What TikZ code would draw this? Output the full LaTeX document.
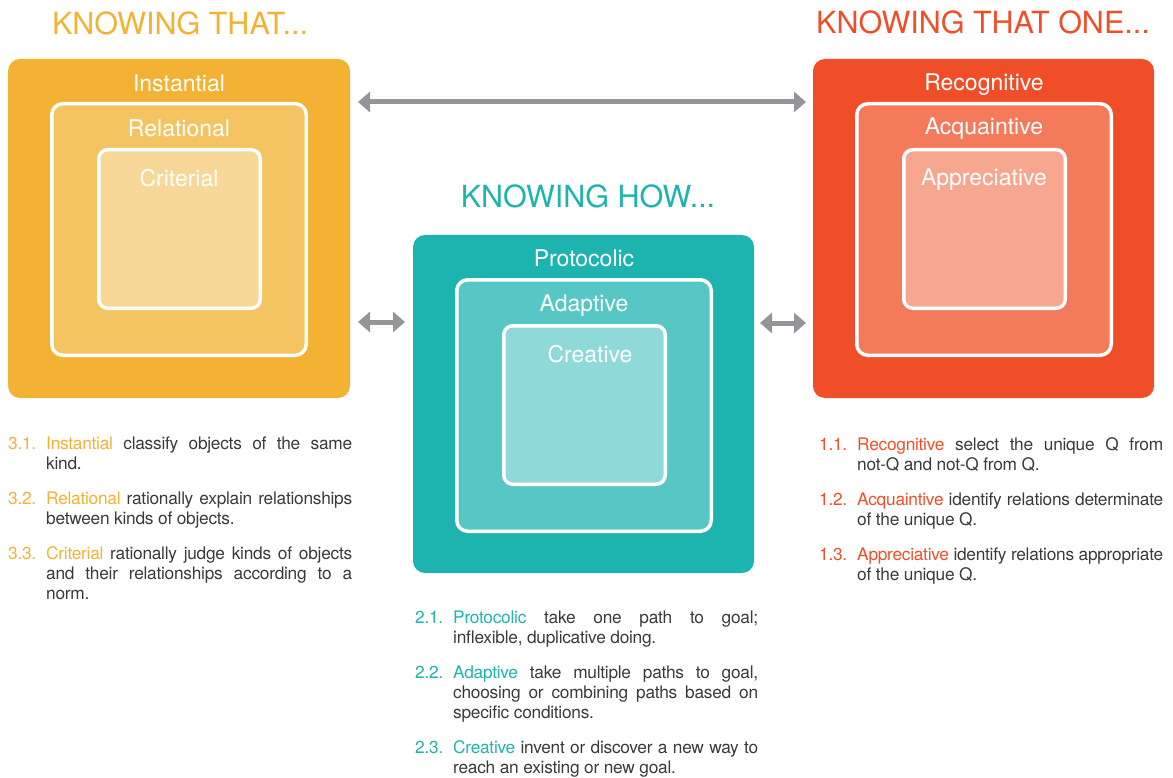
\documentclass[tikz,border=0pt]{standalone}
\usepackage{fontspec}
\setmainfont{TeX Gyre Heros}
\newfontfamily\bodyfont[LetterSpace=-1.5]{TeX Gyre Heros}
\usetikzlibrary{arrows.meta}
\definecolor{orA}{HTML}{F3B233}
\definecolor{orB}{HTML}{F5C462}
\definecolor{orC}{HTML}{F8D898}
\definecolor{tlA}{HTML}{1DB4B0}
\definecolor{tlB}{HTML}{56C7C4}
\definecolor{tlC}{HTML}{8FDAD8}
\definecolor{rdA}{HTML}{F04E28}
\definecolor{rdB}{HTML}{F47A5C}
\definecolor{rdC}{HTML}{F7A690}
\definecolor{arrgray}{HTML}{939598}
\definecolor{txtgray}{HTML}{3A3A3A}
\newcommand{\itm}[3]{\noindent\hangindent=38pt\hangafter=1\makebox[38pt][l]{\textcolor{#1}{#2}}\textcolor{#1}{#3}}
\newcommand{\txtsetup}{\setlength{\parskip}{15pt}\setlength{\parindent}{0pt}\hyphenpenalty=10000 \exhyphenpenalty=10000 \tolerance=10000 }
\begin{document}
\begin{tikzpicture}[x=1pt,y=-1pt,
  outerbox/.style={anchor=north west, inner sep=0, outer sep=0, rounded corners=12pt},
  midbox/.style={anchor=north west, inner sep=0, outer sep=0, draw=white, line width=3.5pt, rounded corners=11pt, minimum width=254.5pt, minimum height=251.5pt},
  innbox/.style={anchor=north west, inner sep=0, outer sep=0, draw=white, line width=3.5pt, rounded corners=9pt, minimum width=161.5pt, minimum height=158.5pt},
  lbl/.style={anchor=base, inner sep=0, text=white, font=\fontsize{23}{27}\selectfont},
  ttl/.style={anchor=base, inner sep=0, font=\fontsize{30.5}{36}\selectfont},
  txt/.style={anchor=base west, inner sep=0, align=justify, text=txtgray, font=\bodyfont\fontsize{17.3}{20}\selectfont},
  garrow/.style={draw=arrgray, line width=5pt, arrows={Triangle[length=12pt,width=20pt]-Triangle[length=12pt,width=20pt]}}
]
\useasboundingbox (0,0) rectangle (1173,778);

% titles
\node[ttl, text=orA] (t1) at (180,35) {KNOWING THAT...};
\node[ttl, text=tlA] (t2) at (588,208) {KNOWING HOW...};
\node[ttl, text=rdA] (t3) at (983,34) {KNOWING THAT ONE...};

% left column X=8 Y=59
\node[outerbox, fill=orA, minimum width=342pt, minimum height=339pt] (L) at (8,59) {};
\node[midbox, fill=orB] (L2) at (51.75,103.75) {};
\node[innbox, fill=orC] (L3) at (98.75,149.75) {};
\node[lbl] (L1t) at (179,92) {Instantial};
\node[lbl] (L2t) at (179,136.5) {Relational};
\node[lbl] (L3t) at (179,187) {Criterial};

% middle column X=413 Y=235
\node[outerbox, fill=tlA, minimum width=341pt, minimum height=338pt] (M) at (413,235) {};
\node[midbox, fill=tlB] (M2) at (456.75,279.75) {};
\node[innbox, fill=tlC] (M3) at (503.75,325.75) {};
\node[lbl] (M1t) at (584,267) {Protocolic};
\node[lbl] (M2t) at (584,311) {Adaptive};
\node[lbl] (M3t) at (590,362) {Creative};

% right column X=813 Y=59
\node[outerbox, fill=rdA, minimum width=341pt, minimum height=339pt] (R) at (813,59) {};
\node[midbox, fill=rdB] (R2) at (856.75,103.75) {};
\node[innbox, fill=rdC] (R3) at (903.75,149.75) {};
\node[lbl] (R1t) at (984,91) {Recognitive};
\node[lbl] (R2t) at (984,135) {Acquaintive};
\node[lbl] (R3t) at (984,185.5) {Appreciative};

% arrows
\draw[garrow, shorten <=8pt, shorten >=7pt] (L.east |- 0,102) -- (R.west |- 0,102);
\draw[garrow, shorten <=8pt, shorten >=8pt] (L.east |- 0,322) -- (M.west |- 0,322);
\draw[garrow, shorten <=6pt, shorten >=7pt] (M.east |- 0,323) -- (R.west |- 0,323);

% texts
\node[txt, text width=344pt] (LT) at (8,449) {\txtsetup
\itm{orA}{3.1.}{Instantial} classify objects of the same kind.\par
\itm{orA}{3.2.}{Relational} rationally explain relationships between kinds of objects.\par
\itm{orA}{3.3.}{Criterial} rationally judge kinds of objects and their relationships according to a norm.\par};

\node[txt, text width=343pt] (MT) at (415,623) {\txtsetup
\itm{tlA}{2.1.}{Protocolic} take one path to goal;\linebreak inflexible, duplicative doing.\par
\itm{tlA}{2.2.}{Adaptive} take multiple paths to goal, choosing or combining paths based on specific conditions.\par
\itm{tlA}{2.3.}{Creative} invent or discover a new way to reach an existing or new goal.\par};

\node[txt, text width=344pt] (RT) at (819,450) {\txtsetup
\itm{rdA}{1.1.}{Recognitive} select the unique Q from not-Q and not-Q from Q.\par
\itm{rdA}{1.2.}{Acquaintive} identify relations determinate of the unique Q.\par
\itm{rdA}{1.3.}{Appreciative} identify relations appropriate of the unique Q.\par};
\end{tikzpicture}
\end{document}
